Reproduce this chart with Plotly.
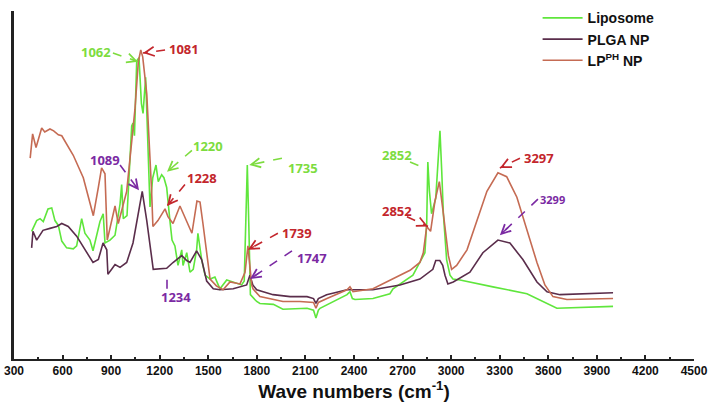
###FTIR spectra - liposome / PLGA NP / LP(pH) NP###

###imports
import plotly.graph_objects as go

###data (wave numbers in cm-1, intensity in arbitrary units)
liposome_wn = [409, 440, 461, 481, 510, 533, 553, 574, 595, 625, 666, 687, 718, 738, 769, 788,
               831, 851, 862, 893, 924, 955, 965, 975, 998, 1027, 1035, 1044, 1058, 1072, 1087,
               1097, 1113, 1125, 1140, 1157, 1177, 1191, 1212, 1226, 1243, 1263, 1276, 1294,
               1313, 1336, 1344, 1367, 1387, 1407, 1428, 1436, 1459, 1480, 1511, 1541, 1572,
               1614, 1654, 1706, 1722, 1733, 1741, 1750, 1760, 1799, 1819, 1902, 1961, 2110,
               2150, 2165, 2180, 2190, 2270, 2357, 2375, 2390, 2406, 2517, 2622, 2641, 2764,
               2818, 2838, 2849, 2856, 2866, 2879, 2905, 2921, 2931, 2942, 2952, 2972, 2993,
               3011, 3055, 3258, 3468, 3653, 4000]
liposome_abs = [131, 142, 144, 141, 154, 155, 142, 137, 121, 114, 113, 116, 144, 129, 122, 111,
                141, 149, 119, 122, 127, 159, 179, 144, 147, 239, 242, 229, 306, 309, 262,
                252, 289, 235, 156, 186, 199, 182, 189, 186, 176, 142, 122, 116,
                96, 112, 96, 109, 89, 92, 112, 129, 102, 86, 82, 84, 72,
                81, 79, 76, 80, 140, 199, 140, 66, 59, 57, 56, 51, 52,
                50, 42, 50, 52, 59, 66, 69, 62, 61, 62, 67, 72, 86,
                102, 109, 139, 202, 172, 149, 165, 216, 234, 192, 149, 102, 86,
                82, 81, 74, 67, 52, 54]

plga_wn = [409, 417, 440, 461, 479, 522, 564, 595, 635, 687, 749, 788, 821, 850, 873, 880, 903,
           924, 955, 996, 1035, 1066, 1092, 1120, 1140, 1160, 1243, 1282, 1336, 1367, 1387,
           1428, 1459, 1490, 1531, 1572, 1654, 1737, 1757, 1775, 1799, 1900, 2005, 2110, 2150,
           2165, 2180, 2231, 2357, 2517, 2684, 2807, 2887, 2905, 2930, 2948, 2962, 2980, 3013,
           3116, 3196, 3289, 3363, 3443, 3530, 3592, 3672, 4000]
plga_abs = [114, 131, 122, 127, 132, 134, 136, 139, 136, 126, 109, 99, 102, 119, 112, 87, 92,
            97, 94, 99, 119, 149, 172, 142, 119, 92, 93, 99, 106, 101, 99,
            111, 102, 80, 72, 71, 72, 76, 86, 76, 71, 66, 64, 64, 62,
            57, 62, 66, 71, 71, 76, 82, 92, 101, 101, 96, 86, 77, 79,
            89, 109, 122, 119, 102, 79, 69, 66, 68]

lp_wn = [400, 415, 436, 471, 490, 522, 545, 574, 595, 666, 728, 769, 790, 821, 841, 862, 876,
         924, 944, 996, 1027, 1047, 1068, 1083, 1095, 1120, 1150, 1158, 1189, 1233, 1251, 1282,
         1325, 1356, 1399, 1430, 1449, 1467, 1492, 1511, 1550, 1591, 1634, 1696, 1727, 1745,
         1768, 1776, 1819, 1961, 2066, 2150, 2165, 2180, 2233, 2357, 2375, 2394, 2517, 2622,
         2746, 2807, 2828, 2849, 2873, 2900, 2927, 2952, 2983, 3003, 3034, 3098, 3160, 3221,
         3289, 3343, 3406, 3468, 3530, 3579, 3629, 3715, 4000]
lp_abs = [206, 231, 217, 237, 233, 236, 234, 230, 229, 209, 186, 162, 147, 176, 196, 190, 122,
          157, 139, 172, 226, 256, 305, 317, 310, 272, 172, 136, 142, 154, 146, 139,
          157, 146, 129, 162, 161, 139, 106, 82, 75, 71, 79, 77, 89, 116,
          76, 72, 64, 59, 59, 58, 52, 58, 62, 71, 74, 69, 72, 81,
          91, 99, 109, 136, 131, 162, 182, 149, 106, 92, 96, 112, 142, 172,
          191, 187, 166, 132, 99, 76, 64, 61, 62]

series_names = ['Liposome', 'PLGA NP', 'LP<sup>PH</sup> NP']
x_ticks = list(range(300, 4501, 300))

###style
line_colors = ['#5fe63c', '#5a2d4b', '#c56b53']
label_green = '#7ddc3f'
label_red = '#c3262c'
label_purple = '#7b2aa3'

#callouts: text, colour, text pos (wn, y), dashed tail (wn, y), arrow tip (wn, y), font size
callouts = [
    ('1062', label_green, (806, 315), (911, 314), (1066, 305), 13),
    ('1081', label_red, (1350, 318), (1233, 317), (1097, 314), 13),
    ('1089', label_purple, (862, 204), (955, 199), (1072, 173), 13),
    ('1220', label_green, (1498, 219), (1399, 214), (1245, 192), 13),
    ('1228', label_red, (1461, 186), (1356, 179), (1245, 157), 13),
    ('1234', label_purple, (1300, 64), (1245, 72), (1245, 88), 13),
    ('1735', label_green, (2085, 196), (1955, 206), (1753, 199), 13),
    ('1739', label_red, (2048, 129), (1930, 129), (1745, 112), 13),
    ('1747', label_purple, (2140, 104), (2017, 111), (1758, 82), 13),
    ('2852', label_green, (2665, 209), (2746, 202), (2838, 196), 13),
    ('2852', label_red, (2665, 152), (2727, 146), (2857, 136), 13),
    ('3297', label_red, (3542, 206), (3425, 206), (3301, 196), 13),
    ('3299', label_purple, (3623, 164), (3536, 164), (3301, 127), 11),
]

bold_font = 'Liberation Sans, Arial, sans-serif'
label_font = 'Noto Sans, Open Sans, sans-serif'


#adds one dashed arrow with its label
def add_callout(fig, text, color, text_pos, tail, tip, size):
    fig.add_shape(type='line', x0=tail[0], y0=tail[1], x1=tip[0], y1=tip[1],
                  line=dict(color=color, width=1.6, dash='dash'))
    #short stub so only the chevron head is drawn solid
    stub_x = tip[0] + 0.25 * (tail[0] - tip[0])
    stub_y = tip[1] + 0.25 * (tail[1] - tip[1])
    fig.add_annotation(x=tip[0], y=tip[1], ax=stub_x, ay=stub_y, axref='x', ayref='y',
                       text='', showarrow=True, arrowhead=5, arrowsize=1.3,
                       arrowwidth=1.4, arrowcolor=color)
    fig.add_annotation(x=text_pos[0], y=text_pos[1], text=text, showarrow=False,
                       font=dict(family=label_font, size=size, color=color, weight='bold'))


def build_figure():
    fig = go.Figure()
    xs = [liposome_wn, plga_wn, lp_wn]
    ys = [liposome_abs, plga_abs, lp_abs]
    for i in range(0, len(series_names)):
        fig.add_trace(go.Scatter(x=xs[i], y=ys[i], name=series_names[i], mode='lines',
                                 line=dict(color=line_colors[i], width=1.6)))
    for c in callouts:
        add_callout(fig, *c)

    fig.update_layout(
        width=712, height=402,
        margin=dict(l=14, r=18, t=2, b=43),
        plot_bgcolor='white', paper_bgcolor='white',
        legend=dict(x=0.77, y=1.025, xanchor='left', yanchor='top',
                    font=dict(family=bold_font, size=14, color='#111', weight='bold'),
                    bgcolor='rgba(0,0,0,0)', itemwidth=40, tracegroupgap=0),
    )
    fig.update_xaxes(range=[300, 4500], tickvals=x_ticks, showgrid=False, zeroline=False,
                     automargin=False,
                     showline=True, linecolor='#222', linewidth=2,
                     ticks='inside', ticklen=4, tickwidth=1.5, tickcolor='#222',
                     minor=dict(ticks='inside', ticklen=2, dtick=150, tickcolor='#222', tickwidth=1.5),
                     tickfont=dict(family=bold_font, size=12, color='#111', weight='bold'),
                     title=dict(text='Wave numbers (cm<sup>-1</sup>)', standoff=4,
                                font=dict(family=bold_font, size=19, color='#111', weight='bold')))
    fig.update_yaxes(range=[0, 357], showgrid=False, zeroline=False, showticklabels=False,
                     automargin=False,
                     showline=True, linecolor='#222', linewidth=2.5, ticks='')
    return fig


def main():
    fig = build_figure()
    #drop the default page margin so the figure sits at the window corner
    fig.write_html('out.html', config={'displayModeBar': False},
                   post_script="document.body.style.margin='0px';")

main()
